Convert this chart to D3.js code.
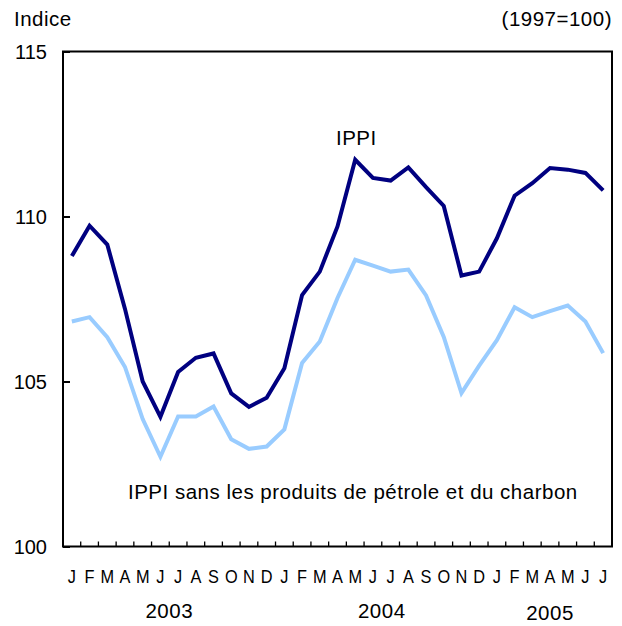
<!DOCTYPE html>
<html>
<head>
<meta charset="utf-8">
<script src="https://cdn.jsdelivr.net/npm/d3@7"></script>
<style>
  body { margin: 0; background: #fff; }
  text { font-family: Arial, "Liberation Sans", Helvetica, sans-serif; fill: #000; }
  .lbl { font-size: 20.5px; letter-spacing: 0.5px; }
</style>
</head>
<body>
<svg id="chart" width="622" height="626"></svg>
<script>
const periods = [
  "2003-01","2003-02","2003-03","2003-04","2003-05","2003-06","2003-07","2003-08","2003-09","2003-10","2003-11","2003-12",
  "2004-01","2004-02","2004-03","2004-04","2004-05","2004-06","2004-07","2004-08","2004-09","2004-10","2004-11","2004-12",
  "2005-01","2005-02","2005-03","2005-04","2005-05","2005-06","2005-07"
];
const monthLabels = ["J","F","M","A","M","J","J","A","S","O","N","D"];
const years = ["2003","2004","2005"];
const ippi = [108.80, 109.72, 109.15, 107.20, 105.00, 103.93, 105.29, 105.72, 105.85, 104.64, 104.23, 104.51,
              105.40, 107.62, 108.33, 109.70, 111.72, 111.17, 111.09, 111.49, 110.89, 110.32, 108.21, 108.33,
              109.34, 110.63, 111.01, 111.47, 111.42, 111.32, 110.79];
const ippiSans = [106.82, 106.95, 106.34, 105.44, 103.86, 102.72, 103.94, 103.94, 104.24, 103.25, 102.96, 103.03,
                  103.55, 105.56, 106.21, 107.53, 108.69, 108.51, 108.33, 108.39, 107.61, 106.35, 104.65, 105.48,
                  106.25, 107.25, 106.95, 107.13, 107.30, 106.82, 105.86];
const yTicks = [100, 105, 110, 115];
const seriesLabels = ["IPPI", "IPPI sans les produits de pétrole et du charbon"];

const svg = d3.select("#chart");
const L = 63, R = 612, T = 51.5, B = 546.5;

const x = d3.scaleBand().domain(periods).range([L, R]).padding(0);
const y = d3.scaleLinear().domain([100, 115]).range([B, T]);
const cx = p => x(p) + x.bandwidth() / 2;

// Y axis labels & inner ticks
const yAxis = d3.axisLeft(y).tickValues(yTicks).tickSize(-7).tickPadding(0).tickFormat(d3.format("d"));
const ya = svg.append("g").attr("transform", `translate(${L},0)`).call(yAxis);
ya.select(".domain").remove();
ya.selectAll(".tick line").attr("stroke", "#000").attr("stroke-width", 2);
ya.selectAll(".tick text").attr("x", -16).attr("dy", "0.36em").style("font-size", "20px").attr("fill", "#000");

// bottom ticks at band boundaries
const bounds = periods.slice(1);
svg.append("g").selectAll("line").data(bounds).join("line")
  .attr("x1", d => x(d)).attr("x2", d => x(d))
  .attr("y1", B).attr("y2", B - 5)
  .attr("stroke", "#000").attr("stroke-width", 1.3);

// month labels
const xAxis = d3.axisBottom(x).tickSize(0).tickPadding(0)
  .tickFormat(d => monthLabels[+d.slice(5) - 1]);
const xa = svg.append("g").attr("transform", `translate(0,${B})`).call(xAxis);
xa.select(".domain").remove();
xa.selectAll(".tick text").attr("y", 0).attr("dy", 0)
  .attr("transform", "translate(0,36.5) scale(0.86,1)")
  .style("font-size", "19px").attr("fill", "#000");

// year labels
years.forEach((yr, i) => {
  const ps = periods.filter(p => p.startsWith(yr));
  const mid = (x(ps[0]) + x(ps[ps.length - 1]) + x.bandwidth()) / 2;
  svg.append("text").attr("class", "lbl").attr("x", mid).attr("y", i === 2 ? 620 : 618)
    .attr("text-anchor", "middle").text(yr);
});

// lines
const line = d3.line().x((d, i) => cx(periods[i])).y(d => y(d));
svg.append("path").datum(ippiSans).attr("d", line)
  .attr("fill", "none").attr("stroke", "#99ccff").attr("stroke-width", 4).attr("stroke-linejoin", "miter");
svg.append("path").datum(ippi).attr("d", line)
  .attr("fill", "none").attr("stroke", "#000080").attr("stroke-width", 4).attr("stroke-linejoin", "miter");

// frame
svg.append("rect").attr("x", L).attr("y", T).attr("width", R - L).attr("height", B - T)
  .attr("fill", "none").attr("stroke", "#000").attr("stroke-width", 2);

// titles
svg.append("text").attr("class", "lbl").attr("x", 14).attr("y", 26).text("Indice");
svg.append("text").attr("class", "lbl").attr("x", 612).attr("y", 26).attr("text-anchor", "end").text("(1997=100)");

// series labels
svg.append("text").attr("class", "lbl").attr("x", 336).attr("y", 145).text(seriesLabels[0]);
svg.append("text").attr("class", "lbl").attr("x", 128).attr("y", 499).text(seriesLabels[1]);
</script>
</body>
</html>
